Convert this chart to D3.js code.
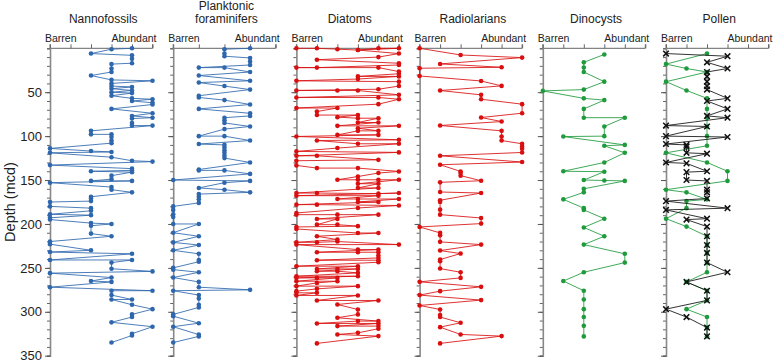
<!DOCTYPE html>
<html>
<head>
<meta charset="utf-8">
<script src="https://d3js.org/d3.v7.min.js"></script>
<style>
  body { margin: 0; background: #fff; }
  svg text { font-family: "Liberation Sans", Arial, sans-serif; fill: #222; }
</style>
</head>
<body>
<div id="chart"></div>
<script>
// panel titles and abundance levels (0 = barren)
const panelTitles = [["Nannofossils"], ["Planktonic", "foraminifers"], ["Diatoms"], ["Radiolarians"], ["Dinocysts"], ["Pollen"]];
const panelLevels = [5, 4, 5, 5, 5, 5];
const depthLabels = [50, 100, 150, 200, 250, 300, 350];

// [depth (mcd), abundance level]
const nannofossils = [
  [0,4],[1,3],[6,2],[8,4],[12,4],[17,4],[18,3],[23,3],[27,3],[31,2],[36,3],[37,5],[40,3],[43,3],[44,4],[46,3],
  [48,4],[50,3],[51,4],[54,3],[57,4],[58,5],[60,4],[62,5],[64,5],[69,3],[74,5],[77,4],[79,5],[80,4],[85,4],
  [88,4],[88,5],[94,2],[98,2],[98,3],[101,3],[105,3],[108,3],[114,0],[117,2],[118,3],[119,0],[124,3],[128,4],
  [129,5],[133,0],[137,4],[139,4],[140,2],[141,4],[145,3],[149,3],[151,2],[151,4],[153,0],[158,3],[161,3],
  [164,4],[169,2],[171,2],[174,2],[175,0],[180,0],[182,2],[185,2],[189,0],[190,2],[193,0],[195,0],[199,2],
  [200,3],[202,2],[211,2],[214,3],[220,0],[223,0],[230,2],[232,0],[234,4],[241,0],[241,4],[244,3],[251,3],
  [254,5],[256,0],[261,3],[265,2],[266,3],[272,0],[276,5],[276,3],[281,3],[286,4],[286,3],[292,4],[297,5],
  [303,4],[306,4],[312,3],[317,5],[325,4],[327,4],[335,3]
];
const foraminifers = [
  [0,3],[1,2],[6,2],[9,2],[11,3],[15,3],[19,3],[22,1],[22,2],[27,3],[31,1],[37,3],[39,1],[43,2],[47,3],[54,1],
  [56,1],[59,2],[64,3],[69,1],[74,3],[77,3],[79,2],[82,2],[85,2],[89,3],[92,2],[100,1],[100,2],[105,3],[109,1],
  [110,2],[113,2],[116,2],[119,2],[122,2],[125,2],[130,3],[138,1],[139,1],[139,2],[143,3],[150,0],[151,3],
  [153,2],[159,1],[161,2],[164,3],[166,1],[169,1],[172,1],[176,1],[180,0],[184,0],[189,0],[192,0],[200,0],
  [200,1],[210,0],[214,1],[221,0],[224,1],[230,0],[234,1],[241,1],[243,1],[250,0],[252,0],[255,1],[261,0],
  [266,1],[272,1],[275,3],[276,0],[281,1],[285,1],[292,1],[295,1],[303,0],[305,0],[313,1],[317,0],[326,1],
  [328,1],[335,0]
];
const diatoms = [
  [0,0],[0,1],[1,2],[2,3],[0,4],[0,5],[2,3],[6,5],[10,4],[13,1],[17,5],[19,5],[22,1],[22,0],[22,4],[26.5,5],
  [29,5],[32,3],[32,5],[35,3],[37,0],[38,5],[43,5],[46.6,4],[48,0],[48,2],[48,3],[53,5],[56,0],[56,4],[58,5],
  [63.6,4],[68,0],[68,2],[72,1],[76,1],[76,3],[78.4,2],[79.6,3],[79.6,4],[84.5,3],[84.5,4],[88.3,2],[88.3,5],
  [91,3],[94,4],[94,3],[98.6,2],[98.6,4],[100.4,0],[104.2,5],[105,1],[108.7,3],[108.7,5],[113.6,2],[117.4,0],
  [118.5,5],[122.4,0],[122.4,1],[127,4],[128,0],[133.3,0],[136.4,1],[136.4,3],[140.2,5],[142,4],[146,3],
  [149.7,2],[149.7,3],[149.7,4],[149.7,5],[154.2,3],[154.2,4],[159,3],[159,4],[164.8,0],[164.8,1],[165.5,4],
  [164.8,5],[167.8,0],[167.8,4],[171.6,2],[171.6,3],[171.6,5],[175,3],[175,4],[178,0],[178,1],[179,5],
  [181.8,3],[187.5,0],[189.4,0],[189.4,2],[189.4,4],[194.3,1],[194.3,2],[200.8,1],[200.8,2],[202.5,3],
  [203.4,0],[205.7,0],[210.3,3],[210.3,4],[214,1],[217.8,2],[220.9,0],[220.9,1],[220,2],[223.5,5],[223.5,0],
  [229.2,3],[229.2,4],[232.2,1],[232.2,3],[232.2,4],[236,4],[238.7,4],[241.3,1],[241.3,4],[243.6,4],[248.1,0],
  [248.1,3],[251.2,1],[251.2,2],[251.2,3],[253.8,1],[253.8,2],[255.7,3],[259.5,0],[259.5,3],[261.4,0],
  [261.4,1],[261.4,2],[265.2,0],[265.2,2],[267.1,1],[270.8,0],[270.8,3],[273.9,1],[276.5,0],[278.4,0],
  [278.4,1],[281.4,0],[281.4,3],[287.1,1],[287.1,4],[291.7,2],[297.4,3],[303,3],[306.8,2],[310.6,4],[310.6,3],
  [313.3,1],[313.3,4],[316.3,2],[316.3,4],[319.3,4],[324,3],[325.8,2],[327.7,4],[336,1]
];
const radiolarians = [
  [0,0],[7.6,2],[10.6,5],[17.8,1],[21.6,4],[22.7,0],[31.5,0],[37.2,3],[42.8,4],[48.1,1],[53,3],[58,3],[63.6,5],
  [73.9,5],[78.8,3],[83.4,4],[87.9,1],[94,4],[100.4,4],[105,4],[108.7,5],[111.8,5],[114.4,5],[118.6,5],
  [122.4,1],[129.5,5],[132.6,1],[140.2,2],[142,2],[145,2],[150.8,3],[152.6,1],[163.6,1],[164.8,3],[173,1],
  [175,1],[183.7,1],[189.4,1],[193.2,3],[199.6,3],[203.4,0],[210.2,1],[213,1],[220.4,1],[223.5,3],[230.3,1],
  [233.7,2],[240.5,1],[242.5,1],[250.8,1],[255,2],[261.4,2],[265.9,0],[271.6,3],[276.5,1],[281,0],[286.7,3],
  [292.8,0],[297.4,1],[303.8,1],[306,1],[312.5,2],[317.5,1],[325.8,2],[327.7,4],[336,1]
];
const dinocysts = [
  [7,3],[16,2],[22,2],[27,2],[38,3],[47,2],[48.5,0],[57,2],[59,3],[69,2],[79,2],[79,4],[89,3],[100,3],[100.5,1],
  [110,4],[111,3],[119,4],[130,3],[140,1],[140.5,3],[150,2],[150.5,3],[151,4],[160,2],[164,2],[172,1],[182,2],
  [184,2],[194,3],[204,2],[214,3],[223.5,2],[234,4],[244,4],[255,2],[265,1],[276,2],[286,2],[297,2],[306,2],
  [316,2],[328,2]
];
const pollenBlack = [
  [6,0],[9,3],[16,2],[23,3],[27,2],[32,2],[38,2],[43,2],[47,2],[57,3],[60,2],[69,3],[77,2],[79,3],[88,0],
  [89,2],[100,0],[101,3],[109,0],[110,1],[112,1],[119,1],[120,2],[130,0],[131,1],[140,2],[141,1],[150,1],
  [151,2],[161,2],[164,2],[171,2],[174,0],[182,3],[184,0],[194,2],[195,1],[203,2],[214,2],[224,2],[233,2],
  [244,2],[255,3],[266,1],[276,2],[287,2],[297,0],[306,1],[318,2],[328,2]
];
const pollenGreen = [
  [6,2],[18,0],[23,1],[27,2],[38,0],[48,1],[57,2],[69,2],[79,2],[89,2],[100,2],[111,2],[119,0],[130,2],
  [140,3],[151,3],[161,0],[164,1],[172,2],[174,1],[182,1],[194,0],[203,1],[214,2],[224,2],[233,2],[244,2],
  [255,2],[266,1],[276,2],[287,2],[297,1],[306,2],[318,2],[328,2]
];

const blue = "#2e67ad", red = "#d90f0f", green = "#1f9a3c";
const panelSeries = [
  [{data: nannofossils, color: blue}],
  [{data: foraminifers, color: blue}],
  [{data: diatoms, color: red}],
  [{data: radiolarians, color: red}],
  [{data: dinocysts, color: green}],
  [{data: pollenGreen, color: green}, {data: pollenBlack, color: "#111", cross: true}]
];

const width = 774, height = 362;
const svg = d3.select("#chart").append("svg")
  .attr("width", width).attr("height", height);

const y = d3.scaleLinear().domain([0, 350]).range([48.3, 355.7]);
const panelX = d3.scaleLinear().domain([0, 5]).range([50, 666]);
const panelW = 102.5;

// depth axis label
svg.append("text")
  .attr("transform", "translate(15," + y(175) + ") rotate(-90)")
  .attr("text-anchor", "middle")
  .style("font-size", "14.5px")
  .text("Depth (mcd)");

panelTitles.forEach(function(title, i) {
  let x0 = panelX(i);
  let x = d3.scaleLinear().domain([0, panelLevels[i]]).range([x0, x0 + panelW]);
  let g = svg.append("g");

  // title
  let t = g.append("text")
    .attr("text-anchor", "middle")
    .style("font-size", "12px");
  title.forEach(function(line, j) {
    t.append("tspan")
      .attr("x", x0 + panelW / 2 + 2)
      .attr("y", title.length === 1 ? 23 : 10 + j * 13)
      .text(line);
  });

  g.append("text").attr("x", x0 - 5).attr("y", 42)
    .style("font-size", "10.5px").text("Barren");
  g.append("text").attr("x", x0 + panelW + 4).attr("y", 42)
    .attr("text-anchor", "end")
    .style("font-size", "10.5px").text("Abundant");

  // top axis
  let top = g.append("g")
    .attr("transform", "translate(0," + y(0) + ")")
    .call(d3.axisTop(x).ticks(panelLevels[i]).tickSize(4).tickFormat(""));
  top.select(".domain").attr("stroke", "#666").attr("d", "M" + x0 + ",-4V0H" + (x0 + panelW) + "V-4");
  top.selectAll(".tick line").attr("stroke", "#666");

  // depth axis, minor and major ticks
  let minor = g.append("g")
    .attr("transform", "translate(" + x0 + ",0)")
    .call(d3.axisLeft(y).tickValues(d3.range(0, 351, 10)).tickSize(3).tickFormat(""));
  minor.select(".domain").attr("stroke", "#888").attr("stroke-width", 1.6);
  minor.selectAll(".tick line").attr("stroke", "#666");

  let major = g.append("g")
    .attr("transform", "translate(" + x0 + ",0)")
    .call(d3.axisLeft(y).tickValues(depthLabels).tickSize(5).tickPadding(3)
      .tickFormat(i === 0 ? d3.format("d") : ""));
  major.select(".domain").remove();
  major.selectAll(".tick line").attr("stroke", "#555");
  major.selectAll(".tick text")
    .style("font-size", "13px")
    .style("font-family", "'Liberation Sans', Arial, sans-serif")
    .attr("fill", "#222");

  // series
  panelSeries[i].forEach(function(s) {
    let line = d3.line().x(d => x(d[1])).y(d => y(d[0]));
    g.append("path")
      .datum(s.data)
      .attr("fill", "none")
      .attr("stroke", s.color)
      .attr("stroke-width", 1)
      .attr("stroke-opacity", 0.85)
      .attr("d", line);

    if (s.cross) {
      g.selectAll(null)
        .data(s.data)
        .enter()
        .append("path")
        .attr("d", "M-2.8,-2.8L2.8,2.8M-2.8,2.8L2.8,-2.8")
        .attr("transform", d => "translate(" + x(d[1]) + "," + y(d[0]) + ")")
        .attr("fill", "none")
        .attr("stroke", s.color)
        .attr("stroke-width", 1.5);
    } else {
      g.selectAll(null)
        .data(s.data)
        .enter()
        .append("circle")
        .attr("cx", d => x(d[1]))
        .attr("cy", d => y(d[0]))
        .attr("r", 2.3)
        .attr("fill", s.color);
    }
  });
});
</script>
</body>
</html>
